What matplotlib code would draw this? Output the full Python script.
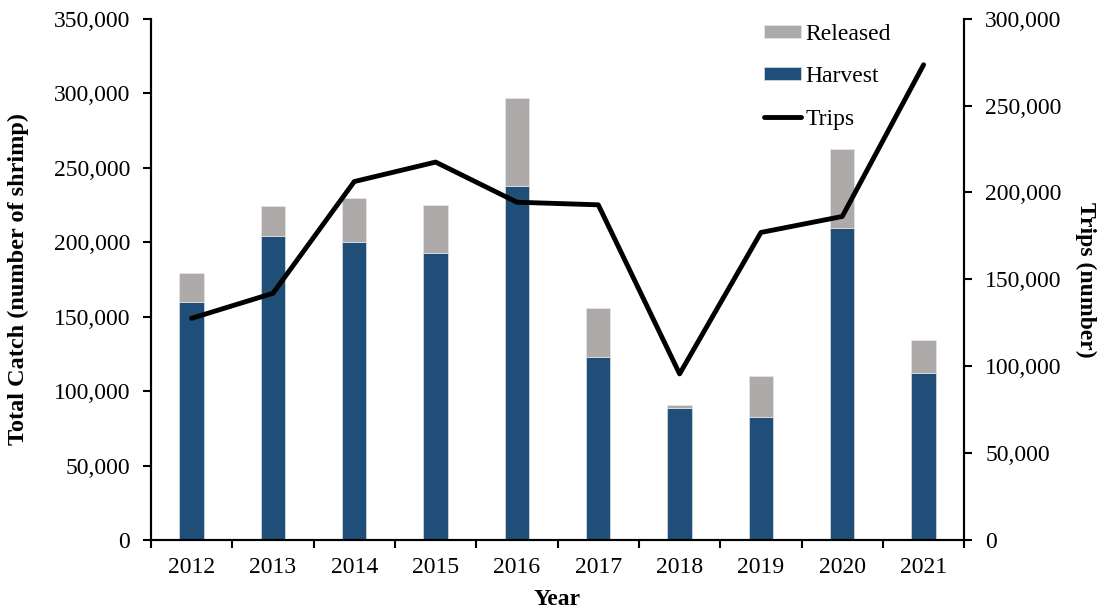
import numpy as np
import matplotlib.pyplot as plt
from matplotlib.ticker import FuncFormatter, FixedLocator

plt.rcParams['font.family'] = ['Liberation Serif', 'DejaVu Serif']

years = ['2012', '2013', '2014', '2015', '2016', '2017', '2018', '2019', '2020', '2021']
harvest = [160000, 204000, 200400, 192800, 237600, 123200, 88900, 82900, 209600, 112000]
total_catch = [179200, 224400, 229500, 225000, 296500, 155600, 90500, 110200, 262500, 134400]
trips = [127600, 142000, 206300, 217500, 194400, 192900, 95600, 177000, 186200, 273500]

BLUE = '#1F4E79'
GRAY = '#AEAAAA'


def thousands(v, pos):
    return f'{int(v):,}'


def main():
    released = np.array(total_catch) - np.array(harvest)
    x = np.arange(len(years))

    fig = plt.figure(figsize=(11.02, 6.14), dpi=100)
    ax = fig.add_axes([0.137, 0.1205, 0.738, 0.849])
    ax.bar(x, harvest, width=0.3, color=BLUE, edgecolor='#d9e1ea', linewidth=0.5,
           label='Harvest', zorder=2)
    ax.bar(x, released, width=0.3, bottom=harvest, color=GRAY, edgecolor='#e6e6e6',
           linewidth=0.5, label='Released', zorder=2)
    ax.set_ylim(0, 350000)
    ax.set_xlim(-0.5, len(years) - 0.5)
    ax.yaxis.set_major_formatter(FuncFormatter(thousands))
    ax.set_yticks(np.arange(0, 350001, 50000))

    # category labels between boundary ticks
    ax.xaxis.set_major_locator(FixedLocator(np.arange(-0.5, len(years), 1)))
    ax.set_xticklabels([])
    ax.xaxis.set_minor_locator(FixedLocator(x))
    ax.set_xticklabels(years, minor=True)
    ax.tick_params(axis='x', which='minor', length=0, pad=12, labelsize=17)
    ax.tick_params(axis='x', which='major', length=6, width=1.5, direction='out')
    ax.tick_params(axis='y', length=6, width=1.5, labelsize=17, pad=9)

    ax2 = ax.twinx()
    ax2.plot(x, trips, color='black', lw=3.5, label='Trips', solid_capstyle='round',
             zorder=3)
    ax2.set_ylim(0, 300000)
    ax2.set_yticks(np.arange(0, 300001, 50000))
    ax2.yaxis.set_major_formatter(FuncFormatter(thousands))
    ax2.tick_params(axis='y', length=6, width=1.5, labelsize=17, pad=9)

    for a in (ax, ax2):
        a.spines['top'].set_visible(False)
        for s in ('left', 'right', 'bottom'):
            a.spines[s].set_linewidth(1.5)

    ax.set_xlabel('Year', fontsize=17, fontweight='bold', labelpad=8)
    ax.set_ylabel('Total Catch (number of shrimp)', fontsize=17.5, fontweight='bold',
                  labelpad=18)
    ax2.set_ylabel('Trips (number)', fontsize=17, fontweight='bold', rotation=270,
                   labelpad=25)

    h1, l1 = ax.get_legend_handles_labels()
    h2, l2 = ax2.get_legend_handles_labels()
    handles = [h1[1], h1[0], h2[0]]
    labels = [l1[1], l1[0], l2[0]]
    ax2.legend(handles, labels, loc='upper left', bbox_to_anchor=(764 / 1102, 1 - 24 / 614),
               bbox_transform=fig.transFigure, frameon=False, fontsize=17,
               borderpad=0, borderaxespad=0, handlelength=1.57, handleheight=0.47,
               handletextpad=0.17, labelspacing=0.9)

    fig.savefig('out.png', dpi=100)


if __name__ == '__main__':
    main()
